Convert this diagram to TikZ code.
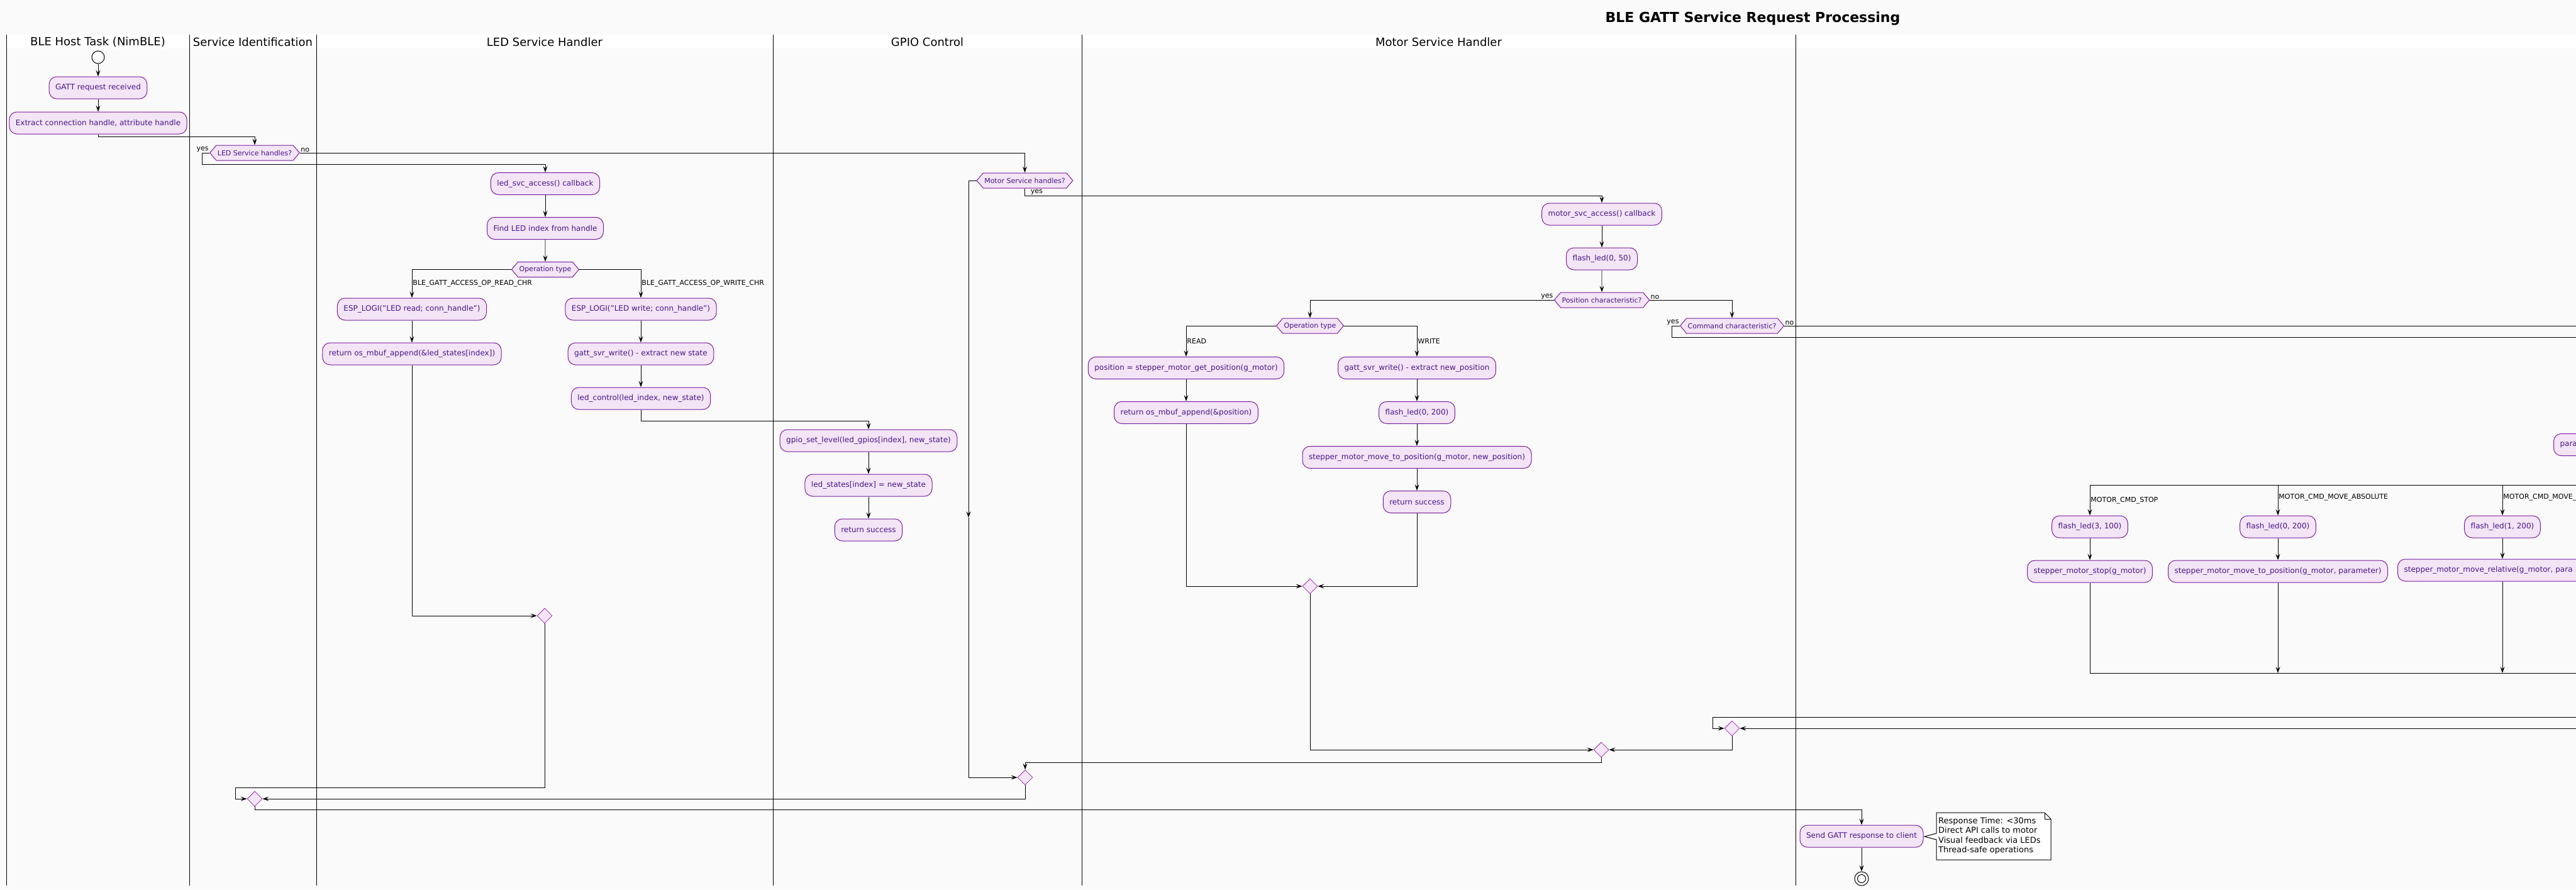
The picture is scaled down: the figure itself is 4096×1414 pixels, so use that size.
\documentclass[tikz,border=0pt]{standalone}
\usepackage{fontspec}
\setmainfont{DejaVu Sans}
\usetikzlibrary{positioning, shapes.geometric, shapes.symbols, arrows.meta}

\definecolor{bgcol}{HTML}{FAFAFA}
\definecolor{actfill}{HTML}{F3E5F5}
\definecolor{actline}{HTML}{7B1FA2}
\definecolor{acttext}{HTML}{4A148C}
\definecolor{mergeline}{HTML}{9C27B0}

\tikzset{
  act/.style = {rectangle, rounded corners = 12pt, draw = actline, fill = actfill, text = acttext,
    line width = 1pt, inner xsep = 10pt, minimum height = 35pt, font = \fontsize{12}{14}\selectfont},
  cond/.style = {signal, signal to = east and west, signal pointer angle = 100, draw = actline,
    fill = actfill, text = acttext, line width = 1pt, inner xsep = 2pt, inner ysep = 0pt,
    minimum height = 24pt, font = \fontsize{11}{13}\selectfont},
  merge/.style = {diamond, draw = mergeline, fill = actfill, minimum width = 24pt,
    minimum height = 24pt, inner sep = 0pt, line width = 0.8pt},
  lbl/.style = {inner sep = 1pt, font = \fontsize{11}{13}\selectfont},
  lanetitle/.style = {font = \fontsize{18}{22}\selectfont},
  flow/.style = {line width = 0.9pt},
}

\begin{document}
\begin{tikzpicture}[x = 1pt, y = -1pt, node distance = 35pt, >= {Stealth[length = 10pt, width = 7pt, inset = 4pt]}]
  \useasboundingbox (0,0) rectangle (4096,1414);
  \clip (0,0) rectangle (4096,1414);
  \fill[bgcol] (0,0) rectangle (4096,1414);
  \fill[white] (10,55) rectangle (4096,77);
  \foreach \x in {10, 301, 503, 1229, 1720, 2855}
    \draw[line width = 0.8pt] (\x,55) -- (\x,1408);

  \node[font = \fontsize{22}{26}\selectfont\bfseries] (title) at (2787,30) {BLE GATT Service Request Processing};
  \node[lanetitle] (lanehost) at (155.5,67) {BLE Host Task (NimBLE)};
  \node[lanetitle] (laneid) at (402,67) {Service Identification};
  \node[lanetitle] (laneled) at (866,67) {LED Service Handler};
  \node[lanetitle] (lanegpio) at (1474.5,67) {GPIO Control};
  \node[lanetitle] (lanemotor) at (2287.5,67) {Motor Service Handler};

  % host task
  \node[circle, draw, fill = white, line width = 1pt, minimum size = 20pt, inner sep = 0pt] (start) at (156,91) {};
  \node[act] (gattreq) [below = 20pt of start] {GATT request received};
  \node[act] (extract) [below = 20pt of gattreq] {Extract connection handle, attribute handle};

  % service identification
  \node[cond] (ledq) at (405,243) {LED Service handles?};
  \node[cond] (motorq) at (1629.5,287) {Motor Service handles?};
  \node[merge] (motorqmerge) at (1630,1236) {};
  \node[merge] (ledqmerge) at (405,1270) {};
  \coordinate (motornogap) at (1540,823);

  % led service
  \node[act] (ledcb) at (867,292) {led\_svc\_access() callback};
  \node[act] (findidx) [below = of ledcb] {Find LED index from handle};
  \node[cond] (ledop) [below = of findidx] {Operation type};
  \node[act] (ledread) at (655,491.5) {ESP\_LOGI("LED read; conn\_handle")};
  \node[act] (ledret) [below = of ledread] {return os\_mbuf\_append(\&led\_states[index])};
  \node[act] (ledwrite) at (1019,491.5) {ESP\_LOGI("LED write; conn\_handle")};
  \node[act] (ledgatt) [below = of ledwrite] {gatt\_svr\_write() - extract new state};
  \node[act] (ledctrl) [below = of ledgatt] {led\_control(led\_index, new\_state)};
  \node[merge] (ledmerge) at (866,979) {};

  % gpio
  \node[act] (gpioset) at (1381,700.5) {gpio\_set\_level(led\_gpios[index], new\_state)};
  \node[act] (ledstates) [below = of gpioset] {led\_states[index] = new\_state};
  \node[act] (gpiook) [below = of ledstates] {return success};

  % motor service
  \node[act] (motorcb) at (2547,340.5) {motor\_svc\_access() callback};
  \node[act] (flashA) [below = of motorcb] {flash\_led(0, 50)};
  \node[cond] (posq) [below = of flashA] {Position characteristic?};
  \node[cond] (cmdq) at (2754,518) {Command characteristic?};
  \node[cond] (motop) at (2083,518) {Operation type};
  \node[act] (posread) at (1886,585) {position = stepper\_motor\_get\_position(g\_motor)};
  \node[act] (posret) [below = of posread] {return os\_mbuf\_append(\&position)};
  \node[act] (poswrite) at (2253,585) {gatt\_svr\_write() - extract new\_position};
  \node[act] (flashB) [below = of poswrite] {flash\_led(0, 200)};
  \node[act] (movepos) [below = of flashB] {stepper\_motor\_move\_to\_position(g\_motor, new\_position)};
  \node[act] (motorok) [below = of movepos] {return success};
  \node[merge] (opmerge) at (2083,932) {};
  \node[merge] (cmdmerge) at (2754,1158) {};
  \node[merge] (motormerge) at (2546,1192) {};

  % command lane
  \node[act, anchor = west, text width = 60pt, align = left] (param) at (4060,707) {para};
  \node[act] (flashC) at (3323,837.5) {flash\_led(3, 100)};
  \node[act] (motorstop) [below = of flashC] {stepper\_motor\_stop(g\_motor)};
  \node[act] (flashD) at (3622,837.5) {flash\_led(0, 200)};
  \node[act] (moveabs) [below = of flashD] {stepper\_motor\_move\_to\_position(g\_motor, parameter)};
  \node[act] (flashE) at (3979,837.5) {flash\_led(1, 200)};
  \node[act, anchor = west, text width = 290pt, align = left] (moverel) at (3812,906.5) {stepper\_motor\_move\_relative(g\_motor, para};
  \coordinate (swline) at (4110,771);
  \coordinate (swjoin) at (4110,1070);
  \coordinate (cmdno) at (4110,518);
  \coordinate (cmdyes) at (4110,536);
  \coordinate (cmdbackA) at (4110,1140);
  \coordinate (cmdbackB) at (4110,1158);

  % response
  \node[act] (send) at (2960,1329.5) {Send GATT response to client};
  \node[circle, draw, fill = white, line width = 1pt, minimum size = 22pt, inner sep = 0pt] (stop) at (2960,1397) {};
  \draw[line width = 1pt] (stop.center) circle (6.5pt);
  \draw[fill = white, line width = 1pt] (3079,1292) -- (3251,1292) -- (3261,1302) -- (3261,1367)
    -- (3079,1367) -- (3079,1335) -- (3060,1330) -- (3079,1325) -- cycle;
  \draw[line width = 1pt] (3251,1292) -- (3251,1302) -- (3261,1302);
  \node[anchor = north west, align = left, inner sep = 3pt, font = \fontsize{13}{15.5}\selectfont] (note) at (3079,1296)
    {Response Time: <30ms\\Direct API calls to motor\\Visual feedback via LEDs\\Thread-safe operations};

  \path[->, flow]
    (start) edge (gattreq)
    (gattreq) edge (extract)
    (ledcb) edge (findidx)
    (findidx) edge (ledop)
    (ledread) edge (ledret)
    (ledwrite) edge (ledgatt)
    (ledgatt) edge (ledctrl)
    (gpioset) edge (ledstates)
    (ledstates) edge (gpiook)
    (motorcb) edge (flashA)
    (flashA) edge (posq)
    (posread) edge (posret)
    (poswrite) edge (flashB)
    (flashB) edge (movepos)
    (movepos) edge (motorok)
    (flashC) edge (motorstop)
    (flashD) edge (moveabs)
    (send) edge (stop);

  \draw[->, flow] (extract.south) -- ++(0,4) -| (ledq.north);
  \draw[->, flow] (ledq.west) node[lbl, anchor = south east] {yes} -- ++(-12,0) -- ++(0,18) -| (ledcb.north);
  \draw[->, flow] (ledq.east) node[lbl, anchor = south west] {no} -| (motorq.north);
  \draw[->, flow] (ledop.west) -| node[lbl, pos = 0.75, anchor = west] {BLE\_GATT\_ACCESS\_OP\_READ\_CHR} (ledread.north);
  \draw[->, flow] (ledop.east) -| node[lbl, pos = 0.75, anchor = west] {BLE\_GATT\_ACCESS\_OP\_WRITE\_CHR} (ledwrite.north);
  \draw[->, flow] (ledctrl.south) -- ++(0,18) -| (gpioset.north);
  \draw[->, flow] (ledret.south) |- (ledmerge.west);
  \draw[->, flow] (ledmerge.south) |- ++(-492,261) |- (ledqmerge.west);

  \draw[->, flow] (motorq.west) -| (motornogap);
  \draw[->, flow] (motornogap) |- (motorqmerge.west);
  \draw[->, flow] (motorq.south) node[lbl, anchor = north west, xshift = 8pt] {yes} -- ++(0,12) -| (motorcb.north);
  \draw[->, flow] (posq.west) node[lbl, anchor = south east] {yes} -| (motop.north);
  \draw[->, flow] (posq.east) node[lbl, anchor = south west] {no} -| (cmdq.north);
  \draw[->, flow] (motop.west) -| node[lbl, pos = 0.75, anchor = west] {READ} (posread.north);
  \draw[->, flow] (motop.east) -| node[lbl, pos = 0.75, anchor = west] {WRITE} (poswrite.north);
  \draw[->, flow] (posret.south) |- (opmerge.west);
  \draw[->, flow] (motorok.south) |- (opmerge.east);
  \draw[flow] (cmdq.west) node[lbl, anchor = south east] {yes} -- ++(-12,0) |- (cmdyes);
  \draw[flow] (cmdq.east) node[lbl, anchor = south west] {no} -- (cmdno);
  \draw[->, flow] (cmdbackA) -| ++(-1387,18) -- (cmdmerge.west);
  \draw[->, flow] (cmdbackB) -- (cmdmerge.east);
  \draw[->, flow] (opmerge.south) |- (motormerge.west);
  \draw[->, flow] (cmdmerge.south) |- (motormerge.east);
  \draw[->, flow] (motormerge.south) -- ++(0,8) -| (motorqmerge.north);
  \draw[->, flow] (motorqmerge.south) |- (ledqmerge.east);
  \draw[->, flow] (ledqmerge.south) -- ++(0,5) -| (send.north);

  \draw[->, flow] (swline) -| node[lbl, pos = 0.75, anchor = west] {MOTOR\_CMD\_STOP} (flashC.north);
  \draw[->, flow] (flashD.north |- swline) -- node[lbl, pos = 0.4, anchor = west] {MOTOR\_CMD\_MOVE\_ABSOLUTE} (flashD.north);
  \draw[->, flow] (flashE.north |- swline) -- node[lbl, pos = 0.4, anchor = west] {MOTOR\_CMD\_MOVE\_} (flashE.north);
  \draw[->, flow] (flashE.south) -- (flashE.south |- moverel.north);
  \draw[flow] (motorstop.south) |- (swjoin);
  \draw[->, flow] (moveabs.south) -- (moveabs.south |- swjoin);
  \draw[->, flow] (flashE.south |- moverel.south) -- (flashE.south |- swjoin);
\end{tikzpicture}
\end{document}
